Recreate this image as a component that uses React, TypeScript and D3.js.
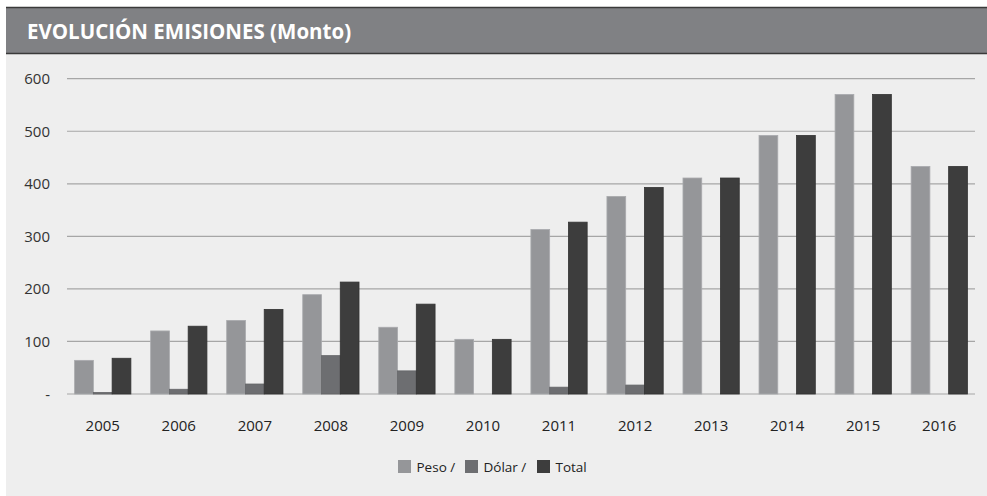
import React from "react";
import * as d3 from "d3";

const years = ["2005","2006","2007","2008","2009","2010","2011","2012","2013","2014","2015","2016"];
const peso = [64, 120, 140, 189, 127, 104, 313, 376, 411, 492, 570, 433];
const dolar = [3, 9, 19, 73, 44, 0, 13, 17, 0, 0, 0, 0];
const total = [68, 129, 161, 213, 171, 104, 327, 393, 411, 492, 570, 433];
const yTicks = [0, 100, 200, 300, 400, 500, 600];
const seriesNames = ["Peso /", "Dólar /", "Total"];
const seriesColors = ["#959699", "#6d6e71", "#3d3d3d"];
const seriesStrokes = ["#a9aaad", "#646568", "#333333"];

const W = 987, H = 496;
const font = "'Open Sans', 'Noto Sans', sans-serif";

export default function App() {
  const x = d3.scaleBand<string>().domain(years).range([67, 975]).paddingInner(0.26).paddingOuter(0.1);
  const y = d3.scaleLinear().domain([0, 600]).range([394, 78.7]);
  const sub = d3.scaleBand<number>().domain([0, 1, 2]).range([0, x.bandwidth()]);
  const data = [peso, dolar, total];
  const legendX = [398, 465, 537];

  return (
    <svg width={W} height={H} style={{ position: "absolute", left: 0, top: 0, fontFamily: font }}>
      <rect x={6} y={0} width={W - 6} height={H} fill="#eeeeee" />
      <rect x={6} y={0} width={W - 6} height={7} fill="#ffffff" />
      <rect x={6} y={7} width={W - 6} height={47} fill="#808184" />
      <line x1={6} x2={W} y1={7.5} y2={7.5} stroke="#3a3a3a" strokeWidth={1.5} />
      <line x1={6} x2={W} y1={53.5} y2={53.5} stroke="#3a3a3a" strokeWidth={1.5} />
      <text x={27} y={38.5} fill="#ffffff" fontSize={20.5} fontWeight={700}>EVOLUCIÓN EMISIONES (Monto)</text>

      {yTicks.map((t) => (
        <g key={t}>
          <line x1={67} x2={975} y1={y(t)} y2={y(t)} stroke="#a6a6a6" strokeWidth={1.2} />
          <text x={50} y={y(t) + 5.5} textAnchor="end" fontSize={15} fill="#333333">{t === 0 ? "-" : t}</text>
        </g>
      ))}

      {years.map((yr, i) => (
        <g key={yr} transform={`translate(${x(yr)},0)`}>
          {data.map((s, k) => (
            <rect key={k} x={sub(k)} y={y(s[i])} width={sub.bandwidth()} height={y(0) - y(s[i])}
              fill={seriesColors[k]} stroke={s[i] > 0 ? seriesStrokes[k] : "none"} strokeWidth={0.8} />
          ))}
          <text x={x.bandwidth() / 2} y={430.5} textAnchor="middle" fontSize={15} fill="#222222">{yr}</text>
        </g>
      ))}

      {seriesNames.map((n, k) => (
        <g key={n}>
          <rect x={legendX[k]} y={460} width={13} height={13} fill={seriesColors[k]} />
          <text x={legendX[k] + 18.5} y={471.5} fontSize={13.5} fill="#222222">{n}</text>
        </g>
      ))}
    </svg>
  );
}
